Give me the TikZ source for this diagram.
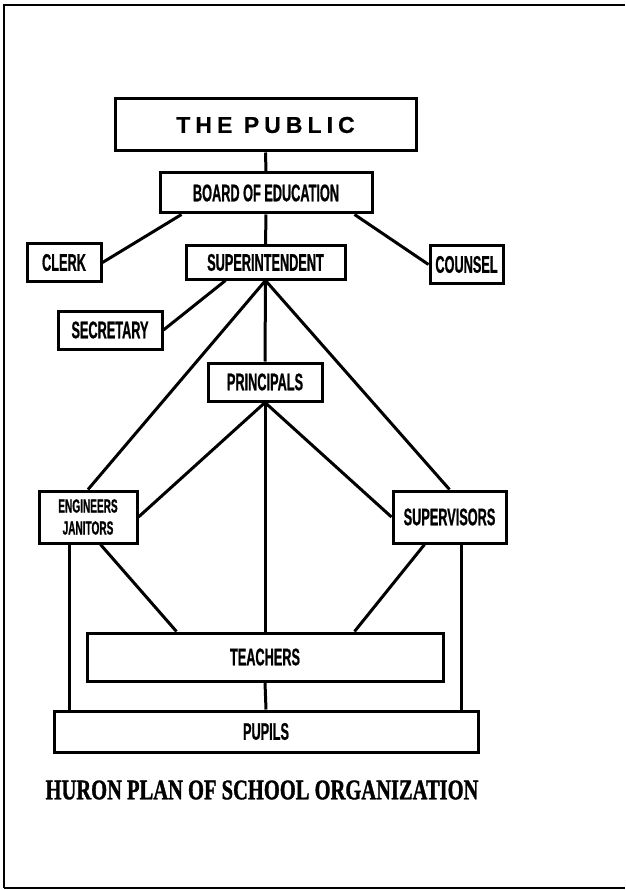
\documentclass[tikz,border=0pt]{standalone}
\usepackage{fontspec}
\usepackage{tikz}
\usetikzlibrary{calc}
\newfontfamily\boxfont[FakeStretch=0.53,FakeBold=0.8]{Liberation Sans}
\newfontfamily\publicfont[LetterSpace=22,FakeBold=0.6]{Liberation Sans}
\newfontfamily\titlefont[FakeStretch=0.72,FakeBold=1.2]{Liberation Serif}

\begin{document}
\begin{tikzpicture}[x=1pt,y=-1pt,
        office/.style={draw,line width=3pt,inner sep=0pt,align=center,
            font=\boxfont\bfseries\fontsize{24}{22}\selectfont},
        link/.style={line width=3pt}]
        \useasboundingbox (0,0) rectangle (625,890);

        % frame, open at the right
        \draw[line width=2.2pt] (625,5) -- (4,5) -- (4,888);
        \draw[line width=1.2pt] (4,888) -- (625,888);

        \node[office,minimum width=301pt,minimum height=52pt,
            font=\publicfont\bfseries\fontsize{23}{24}\selectfont] (public) at (265.5,125) {THE PUBLIC};
        \node[office,minimum width=212pt,minimum height=40pt] (board) at (266,193) {BOARD OF EDUCATION};
        \node[office,minimum width=74pt,minimum height=37pt] (clerk) at (64,262.5) {CLERK};
        \node[office,minimum width=159pt,minimum height=33pt] (supt) at (265.5,262.5) {SUPERINTENDENT};
        \node[office,minimum width=73pt,minimum height=37pt] (counsel) at (466.5,264.5) {COUNSEL};
        \node[office,minimum width=104pt,minimum height=38pt] (secretary) at (110,330) {SECRETARY};
        \node[office,minimum width=114pt,minimum height=38pt] (principals) at (265,382) {PRINCIPALS};
        \node[office,minimum width=98pt,minimum height=52pt,
            font=\boxfont\bfseries\fontsize{19}{22}\selectfont] (engineers) at (88,517) {ENGINEERS\\JANITORS};
        \node[office,minimum width=113pt,minimum height=52pt] (supervisors) at (449.5,517) {SUPERVISORS};
        \node[office,minimum width=356pt,minimum height=48pt] (teachers) at (265,657) {TEACHERS};
        \node[office,minimum width=424pt,minimum height=41pt] (pupils) at (266,731.5) {PUPILS};

        \node[font=\titlefont\bfseries\fontsize{28.5}{28}\selectfont] (title) at (262,790) {HURON PLAN OF SCHOOL ORGANIZATION};

        \draw[link] (public.south) -- (board.north);
        \draw[link] (board.south) -- (supt.north);
        \draw[link] ([xshift=23pt]board.south west) -- (clerk.east);
        \draw[link] ([xshift=-19pt]board.south east) -- (counsel.west);
        \draw[link] ([xshift=41pt]supt.south west) -- (secretary.east);
        \draw[link] (supt.south) -- (principals.north);
        \draw[link] (supt.south) -- (engineers.north);
        \draw[link] (supt.south) -- (supervisors.north);

        \draw[link] (principals.south) -- (engineers.east);
        \draw[link] (principals.south) -- (supervisors.west);
        \draw[link] (principals.south) -- (teachers.north);

        \draw[link] ([xshift=63pt]engineers.south west) -- ([xshift=91pt]teachers.north west);
        \draw[link] ([xshift=33pt]supervisors.south west) -- ([xshift=-90pt]teachers.north east);
        \draw[link] ([xshift=32pt]engineers.south west) coordinate (engfoot) -- (engfoot |- pupils.north);
        \draw[link] ([xshift=-46pt]supervisors.south east) coordinate (supfoot) -- (supfoot |- pupils.north);
        \draw[link] (teachers.south) -- (pupils.north);
    \end{tikzpicture}
\end{document}
